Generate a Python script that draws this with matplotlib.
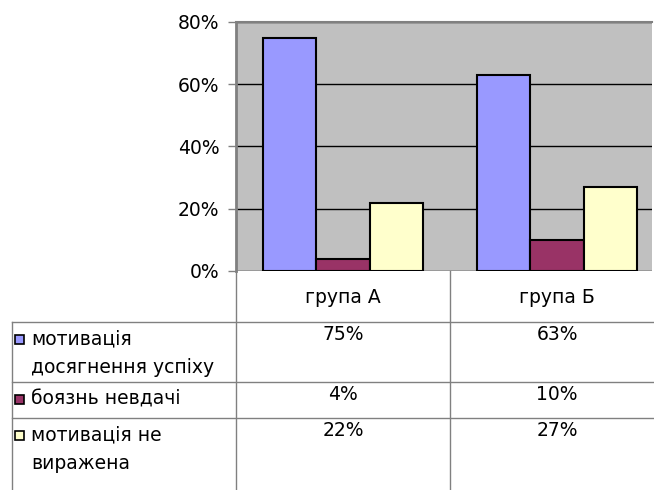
import numpy as np
import matplotlib
matplotlib.use("Agg")
import matplotlib.pyplot as plt
from matplotlib.lines import Line2D
from matplotlib.patches import Rectangle

plt.rcParams['font.family'] = ['DejaVu Sans']

# data
groups = ['група А', 'група Б']
series_names = ['мотивація\nдосягнення успіху', 'боязнь невдачі', 'мотивація не\nвиражена']
values = [
    [75, 63],
    [4, 10],
    [22, 27],
]
colors = ['#9999FF', '#993366', '#FFFFCC']
yticks = [0, 20, 40, 60, 80]

W, H = 654, 490
fs = 13.5
fig = plt.figure(figsize=(W / 100, H / 100), dpi=100)

def fx(px):
    return px / W

def fy(py):
    return 1 - py / H

# plot area in pixel coords
left, right, top, bottom = 236, 652, 22, 271
ax = fig.add_axes([fx(left), fy(bottom), fx(right) - fx(left), fy(top) - fy(bottom)])
ax.set_facecolor('#C0C0C0')

x = np.arange(len(groups))
bw = 0.25
for i, (vals, c) in enumerate(zip(values, colors)):
    ax.bar(x + (i - 1) * bw, vals, width=bw, color=c, edgecolor='black', linewidth=1.5, zorder=3)

ax.set_ylim(0, 80)
ax.set_xlim(-0.5, 1.5 - 12 / 214)
ax.set_yticks(yticks)
ax.set_yticklabels([f'{v}%' for v in yticks], fontsize=fs)
ax.set_xticks([])
ax.yaxis.grid(True, color='black', linewidth=1, zorder=1)
ax.tick_params(axis='y', length=6, width=1, color='#808080', pad=6)
for s in ['right', 'bottom']:
    ax.spines[s].set_visible(False)
ax.spines['left'].set_color('#808080')
ax.spines['left'].set_linewidth(2)
ax.spines['top'].set_color('#808080')
ax.spines['top'].set_linewidth(1.5)

# data table below the chart
lc = '#808080'

def hline(y, x0, x1):
    fig.add_artist(Line2D([fx(x0), fx(x1)], [fy(y), fy(y)], color=lc, linewidth=1))

def vline(xp, y0, y1):
    fig.add_artist(Line2D([fx(xp), fx(xp)], [fy(y0), fy(y1)], color=lc, linewidth=1))

vline(236, 271, 490)
vline(450, 271, 490)
vline(12, 322, 490)
for r in [322, 382, 418]:
    hline(r, 12, 654)

col_centers = [343, 557]
for g, cx in zip(groups, col_centers):
    fig.text(fx(cx), fy(297), g, ha='center', va='center', fontsize=fs)

row_tops = [322, 382, 418]
for name, vals, c, rt in zip(series_names, values, colors, row_tops):
    for k, ln in enumerate(name.split('\n')):
        fig.text(fx(31), fy(rt + 17 + k * 28), ln, ha='left', va='center', fontsize=fs)
    fig.add_artist(Rectangle((fx(15), fy(rt + 22)), fx(9), fy(0) - fy(9),
                             facecolor=c, edgecolor='black', linewidth=1.2,
                             transform=fig.transFigure))
    for v, cx in zip(vals, col_centers):
        fig.text(fx(cx), fy(rt + 12), f'{v}%', ha='center', va='center', fontsize=fs)

fig.savefig('out.png', dpi=100)
